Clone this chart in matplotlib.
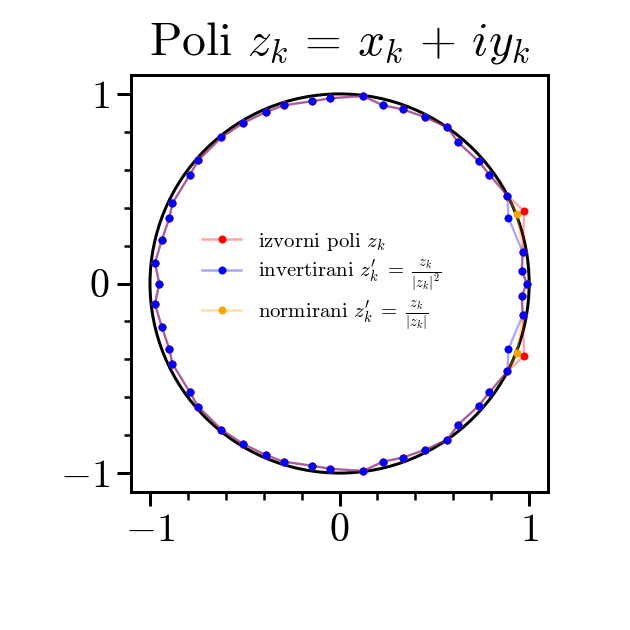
import matplotlib
matplotlib.use("Agg")
from matplotlib import pyplot as plt
from matplotlib.patches import Circle
from matplotlib.ticker import MultipleLocator

plt.rcParams['font.family'] = 'serif'
plt.rcParams['font.serif'] = ['cmr10']
plt.rcParams['mathtext.fontset'] = 'cm'
plt.rcParams['axes.formatter.use_mathtext'] = True
plt.rcParams['axes.unicode_minus'] = True

# Poles (upper half, then lower half)
pole_x = [0.988, 0.961, 0.966, 0.974, 0.885, 0.790, 0.734, 0.626, 0.568, 0.452,
          0.335, 0.229, 0.123, -0.049, -0.148, -0.295, -0.388, -0.508, -0.623,
          -0.746, -0.790, -0.882, -0.898, -0.937, -0.974, -0.951,
          -0.974, -0.937, -0.898, -0.882, -0.790, -0.746, -0.623, -0.508,
          -0.388, -0.295, -0.148, -0.049, 0.123, 0.229, 0.335, 0.452, 0.568,
          0.626, 0.734, 0.790, 0.885, 0.974, 0.966, 0.961]
pole_y = [0.000, 0.067, 0.166, 0.381, 0.464, 0.574, 0.645, 0.744, 0.824, 0.877,
          0.918, 0.940, 0.989, 0.977, 0.961, 0.940, 0.905, 0.847, 0.771,
          0.649, 0.573, 0.423, 0.346, 0.231, 0.109, 0.000,
          -0.109, -0.231, -0.346, -0.423, -0.573, -0.649, -0.771, -0.847,
          -0.905, -0.940, -0.961, -0.977, -0.989, -0.940, -0.918, -0.877,
          -0.824, -0.744, -0.645, -0.574, -0.464, -0.381, -0.166, -0.067]

# Inverted and normalised poles (only the two outliers differ visibly)
inv_x = [0.988, 0.961, 0.966, 0.891, 0.885, 0.790, 0.734, 0.626, 0.568, 0.452,
         0.335, 0.229, 0.123, -0.049, -0.148, -0.295, -0.388, -0.508, -0.623,
         -0.746, -0.790, -0.882, -0.898, -0.937, -0.974, -0.951,
         -0.974, -0.937, -0.898, -0.882, -0.790, -0.746, -0.623, -0.508,
         -0.388, -0.295, -0.148, -0.049, 0.123, 0.229, 0.335, 0.452, 0.568,
         0.626, 0.734, 0.790, 0.885, 0.891, 0.966, 0.961]
inv_y = [0.000, 0.067, 0.166, 0.346, 0.464, 0.574, 0.645, 0.744, 0.824, 0.877,
         0.918, 0.940, 0.989, 0.977, 0.961, 0.940, 0.905, 0.847, 0.771,
         0.649, 0.573, 0.423, 0.346, 0.231, 0.109, 0.000,
         -0.109, -0.231, -0.346, -0.423, -0.573, -0.649, -0.771, -0.847,
         -0.905, -0.940, -0.961, -0.977, -0.989, -0.940, -0.918, -0.877,
         -0.824, -0.744, -0.645, -0.574, -0.464, -0.346, -0.166, -0.067]

norm_x = [0.988, 0.961, 0.966, 0.935, 0.885, 0.790, 0.734, 0.626, 0.568, 0.452,
          0.335, 0.229, 0.123, -0.049, -0.148, -0.295, -0.388, -0.508, -0.623,
          -0.746, -0.790, -0.882, -0.898, -0.937, -0.974, -0.951,
          -0.974, -0.937, -0.898, -0.882, -0.790, -0.746, -0.623, -0.508,
          -0.388, -0.295, -0.148, -0.049, 0.123, 0.229, 0.335, 0.452, 0.568,
          0.626, 0.734, 0.790, 0.885, 0.935, 0.966, 0.961]
norm_y = [0.000, 0.067, 0.166, 0.366, 0.464, 0.574, 0.645, 0.744, 0.824, 0.877,
          0.918, 0.940, 0.989, 0.977, 0.961, 0.940, 0.905, 0.847, 0.771,
          0.649, 0.573, 0.423, 0.346, 0.231, 0.109, 0.000,
          -0.109, -0.231, -0.346, -0.423, -0.573, -0.649, -0.771, -0.847,
          -0.905, -0.940, -0.961, -0.977, -0.989, -0.940, -0.918, -0.877,
          -0.824, -0.744, -0.645, -0.574, -0.464, -0.366, -0.166, -0.067]

labels = [r"izvorni poli $z_k$",
          r"invertirani $z_k' \;=\; \frac{z_k}{|z_k|^2}$",
          r"normirani $z_k' \;=\; \frac{z_k}{|z_k|}$"]
colors = ['red', 'blue', 'orange']


def closed(values):
    return list(values) + [values[0]]


fig = plt.figure(figsize=(3.5, 3.5), dpi=180)
ax = fig.add_axes([0.208, 0.219, 0.662, 0.662])

# Unit circle
ax.add_patch(Circle((0, 0), 1, fill=False, color='black', lw=1.2, zorder=1))

series = [(pole_x, pole_y, 3), (inv_x, inv_y, 4), (norm_x, norm_y, 2)]
for (xs, ys, z), col, lab in zip(series, colors, labels):
    ax.plot(closed(xs), closed(ys), color=col, lw=0.9, alpha=0.35, zorder=z)
    ax.plot(xs, ys, 'o', color=col, ms=3.2, mec='none', zorder=z + 0.5)
    ax.plot([], [], '-o', color=col, lw=1.0, ms=3.2, label=lab, mec='none')

leg = ax.legend(loc='center left', bbox_to_anchor=(0.125, 0.505), frameon=False,
                fontsize=8.3, handlelength=1.9, handletextpad=0.8, labelspacing=0.25)
for h, col in zip(leg.get_lines(), colors):
    h.set_color((*matplotlib.colors.to_rgb(col), 0.35))
    h.set_markerfacecolor(col)
    h.set_markeredgecolor('none')

ax.set_xlim(-1.1, 1.1)
ax.set_ylim(-1.1, 1.1)
ax.set_aspect('equal')
ax.xaxis.set_major_locator(MultipleLocator(1))
ax.yaxis.set_major_locator(MultipleLocator(1))
ax.xaxis.set_minor_locator(MultipleLocator(0.2))
ax.yaxis.set_minor_locator(MultipleLocator(0.2))
ax.tick_params(which='major', length=5.5, width=1.2, labelsize=16, pad=3)
ax.tick_params(which='minor', length=3, width=1.0)
for sp in ax.spines.values():
    sp.set_linewidth(1.2)

ax.set_title(r"Poli $z_k \,=\, x_k \,+\, iy_k$", fontsize=19, pad=8)

fig.savefig("out.png", dpi=180)
